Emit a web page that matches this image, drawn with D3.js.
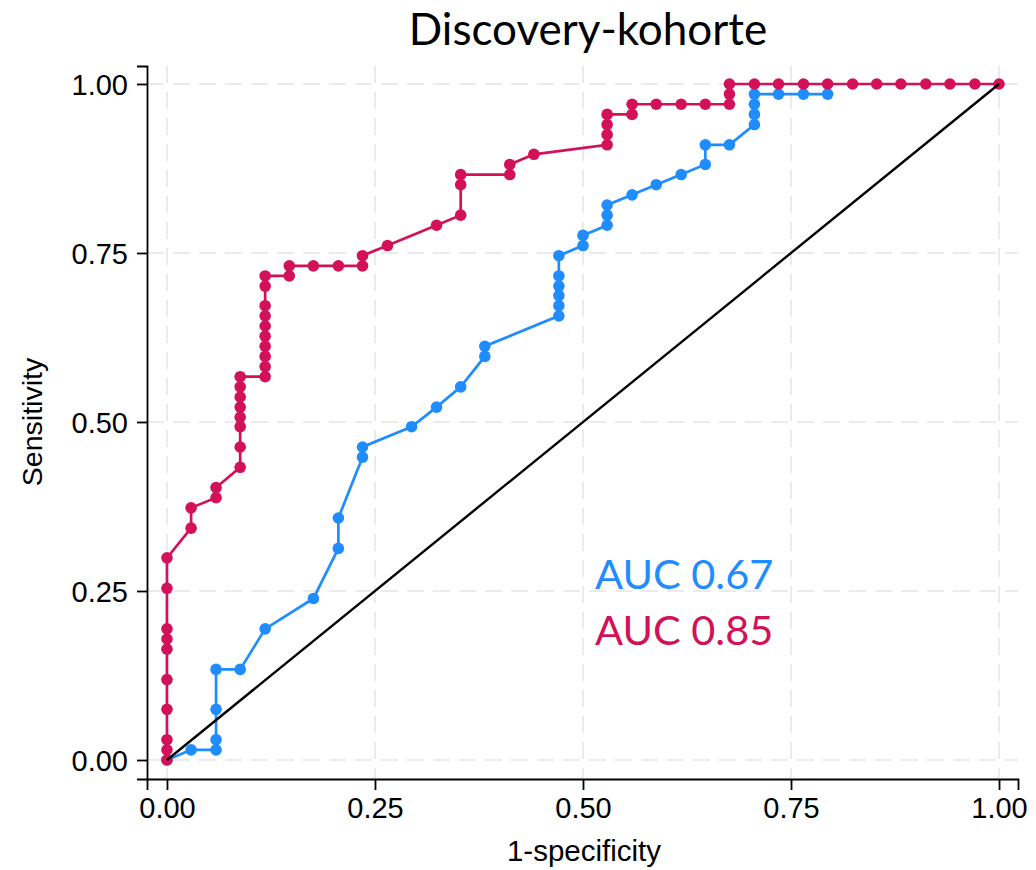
<!DOCTYPE html>
<html>
<head>
<meta charset="utf-8">
<script src="https://cdn.jsdelivr.net/npm/d3@7"></script>
<style>
  body { margin: 0; background: #fff; }
  svg { display: block; }
  .arial { font-family: "Liberation Sans", Arial, Helvetica, sans-serif; }
  .calib { font-family: Lato, "Open Sans", sans-serif; }
</style>
</head>
<body>
<svg width="1036" height="870"></svg>
<script>
// ROC points: 1-specificity (x) and sensitivity (y)
var blueX = [0,0.029,0.059,0.059,0.059,0.059,0.088,0.118,0.176,0.206,0.206,0.235,0.235,0.294,0.324,0.353,0.382,0.382,
             0.471,0.471,0.471,0.471,0.471,0.471,0.5,0.5,0.529,0.529,0.529,0.559,0.588,0.618,0.647,0.647,0.676,
             0.706,0.706,0.706,0.706,0.735,0.765,0.794];
var blueY = [0,0.015,0.015,0.030,0.075,0.134,0.134,0.194,0.239,0.313,0.358,0.448,0.463,0.493,0.522,0.552,0.597,0.612,
             0.657,0.672,0.687,0.701,0.716,0.746,0.761,0.776,0.791,0.806,0.821,0.836,0.851,0.866,0.881,0.910,0.910,
             0.940,0.955,0.970,0.985,0.985,0.985,0.985];

var redX = [0,0,0,0,0,0,0,0,0,0,
            0.029,0.029,0.059,0.059,
            0.088,0.088,0.088,0.088,0.088,0.088,0.088,0.088,
            0.118,0.118,0.118,0.118,0.118,0.118,0.118,0.118,0.118,0.118,
            0.147,0.147,0.176,0.206,0.235,0.235,0.265,0.324,0.353,0.353,0.353,
            0.412,0.412,0.441,0.529,0.529,0.529,0.529,0.559,0.559,0.588,0.618,0.647,0.676,0.676,0.676,
            0.706,0.735,0.765,0.794,0.824,0.853,0.882,0.912,0.941,0.971,1];
var redY = [0,0.015,0.030,0.075,0.119,0.164,0.179,0.194,0.254,0.299,
            0.343,0.373,0.388,0.403,
            0.433,0.463,0.493,0.507,0.522,0.537,0.552,0.567,
            0.567,0.582,0.597,0.612,0.627,0.642,0.657,0.672,0.701,0.716,
            0.716,0.731,0.731,0.731,0.731,0.746,0.761,0.791,0.806,0.851,0.866,
            0.866,0.881,0.896,0.910,0.925,0.940,0.955,0.955,0.970,0.970,0.970,0.970,0.970,0.985,1,
            1,1,1,1,1,1,1,1,1,1,1];

var ticks = [0, 0.25, 0.5, 0.75, 1];
var tickLabels = ["0.00", "0.25", "0.50", "0.75", "1.00"];
var aucLabels = ["AUC 0.67", "AUC 0.85"];

var blueColor = "#1f8cff";
var redColor = "#d31159";

var svg = d3.select("svg");

var x = d3.scaleLinear().domain([-0.024, 1.0228]).range([147, 1018]);
var y = d3.scaleLinear().domain([-0.0281, 1.0266]).range([779, 66]);

// dashed grid
svg.append("g").selectAll("line").data(ticks).enter().append("line")
	.attr("x1", 147).attr("x2", 1018)
	.attr("y1", d => y(d)).attr("y2", d => y(d))
	.attr("stroke", "#ebebeb").attr("stroke-width", 2).attr("stroke-dasharray", "17,9");
svg.append("g").selectAll("line").data(ticks).enter().append("line")
	.attr("y1", 66).attr("y2", 779)
	.attr("x1", d => x(d)).attr("x2", d => x(d))
	.attr("stroke", "#ebebeb").attr("stroke-width", 2).attr("stroke-dasharray", "17,9");

var xaxis = d3.axisBottom(x).tickValues(ticks).tickFormat((d, i) => tickLabels[i]).tickSizeOuter(0).tickSize(11).tickPadding(7);
var yaxis = d3.axisLeft(y).tickValues(ticks).tickFormat((d, i) => tickLabels[i]).tickSizeOuter(0).tickSize(10).tickPadding(9);

var gx = svg.append("g").attr("transform", "translate(0,779)").call(xaxis);
var gy = svg.append("g").attr("transform", "translate(147,0)").call(yaxis);
[gx, gy].forEach(function(g) {
	g.attr("font-family", null).attr("font-size", null).attr("class", "arial");
	g.selectAll("path,line").attr("stroke", "#000").attr("stroke-width", 1.8);
	g.selectAll("text").attr("fill", "#000").style("font-size", "29px");
});
gy.selectAll("text").attr("dy", "0.36em");

// axis titles
svg.append("text").attr("class", "arial").attr("x", 584).attr("y", 861).attr("text-anchor", "middle")
	.style("font-size", "29.5px").text("1-specificity");
svg.append("text").attr("class", "arial").attr("transform", "translate(42,422) rotate(-90)").attr("text-anchor", "middle")
	.style("font-size", "28.5px").text("Sensitivity");

// title
svg.append("text").attr("class", "calib").attr("x", 588).attr("y", 45).attr("text-anchor", "middle")
	.style("font-size", "44px").text("Discovery-kohorte");

function plotroc(xs, ys, color)
{
	var pts = xs.map((d, i) => [d, ys[i]]);
	var line = d3.line().x(d => x(d[0])).y(d => y(d[1]));
	var g = svg.append("g");
	g.append("path").attr("d", line(pts)).attr("fill", "none").attr("stroke", color).attr("stroke-width", 2.7);
	g.selectAll("circle").data(pts).enter().append("circle")
		.attr("cx", d => x(d[0])).attr("cy", d => y(d[1])).attr("r", 5.8).attr("fill", color);
}

plotroc(blueX, blueY, blueColor);
plotroc(redX, redY, redColor);

// reference diagonal
svg.append("line").attr("x1", x(0)).attr("y1", y(0)).attr("x2", x(1)).attr("y2", y(1))
	.attr("stroke", "#000").attr("stroke-width", 2.4);

// AUC labels
svg.append("text").attr("class", "calib").attr("x", 595).attr("y", 589).attr("fill", blueColor)
	.style("font-size", "41.5px").text(aucLabels[0]);
svg.append("text").attr("class", "calib").attr("x", 595).attr("y", 645).attr("fill", redColor)
	.style("font-size", "41.5px").text(aucLabels[1]);
</script>
</body>
</html>
